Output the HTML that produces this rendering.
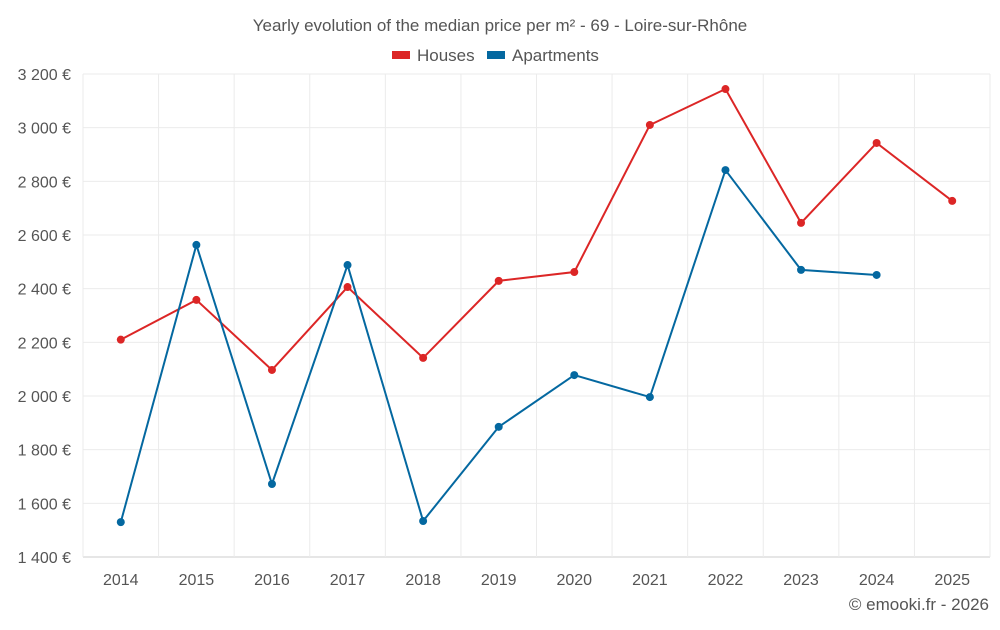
<!DOCTYPE html>
<html><head><meta charset="utf-8"><style>
body{margin:0;background:#fff;font-family:"Liberation Sans",sans-serif;}
svg text{font-family:"Liberation Sans",sans-serif;}
</style></head><body>
<svg id="chart" width="1000" height="625" xmlns="http://www.w3.org/2000/svg">
<text x="500" y="31" text-anchor="middle" font-size="17" fill="#555">Yearly evolution of the median price per m² - 69 - Loire-sur-Rhône</text>
<g>
<g><rect x="392" y="51" width="18" height="8" fill="#dc2626"/><text x="417" y="61" font-size="17" fill="#555">Houses</text></g>
<g><rect x="487" y="51" width="18" height="8" fill="#0468a0"/><text x="512" y="61" font-size="17" fill="#555">Apartments</text></g>
</g>
<g id="grid"></g><g id="axes"></g><g id="series"></g>
<text x="989" y="610" text-anchor="end" font-size="17" fill="#555">© emooki.fr - 2026</text>
</svg>
<script>
const years=[2014,2015,2016,2017,2018,2019,2020,2021,2022,2023,2024,2025];
const houses=[2210,2358,2097,2406,2142,2429,2462,3010,3144,2645,2943,2727];
const apartments=[1530,2563,1672,2488,1534,1885,2078,1996,2842,2470,2451,null];
const yTicks=[1400,1600,1800,2000,2200,2400,2600,2800,3000,3200];
const yTickLabels=["1 400 €","1 600 €","1 800 €","2 000 €","2 200 €","2 400 €","2 600 €","2 800 €","3 000 €","3 200 €"];
const L=83,R=990,T=74,B=557,yMin=1400,yMax=3200;
const step=(R-L)/years.length;
const x=i=>L+step*(i+0.5);
const y=v=>B-(v-yMin)/(yMax-yMin)*(B-T);
const NS="http://www.w3.org/2000/svg";
function mk(tag,attrs,parent){const e=document.createElementNS(NS,tag);for(const k in attrs)e.setAttribute(k,attrs[k]);parent.appendChild(e);return e;}
const grid=document.getElementById('grid'),axes=document.getElementById('axes'),ser=document.getElementById('series');
yTicks.forEach((t,i)=>{
 const l=mk('line',{x1:L,x2:R,y1:y(t),y2:y(t),stroke:i==0?'#ccc':'#ebebeb'},grid);
 
 
 const tx=mk('text',{x:L-12,y:y(t)+6,'text-anchor':'end','font-size':16,fill:'#555'},axes);
 tx.textContent=yTickLabels[i];
 
 
});
for(let i=0;i<=years.length;i++){
 const l=mk('line',{x1:L+step*i,x2:L+step*i,y1:T,y2:B,stroke:'#ebebeb'},grid);
 
 
}
years.forEach((yr,i)=>{
 const tx=mk('text',{x:x(i),y:585,'text-anchor':'middle','font-size':16,fill:'#555'},axes);
 tx.textContent=yr;
 
 
});
function draw(vals,color,name){
 const pts=[];vals.forEach((v,i)=>{if(v!=null)pts.push([x(i),y(v)]);});
 const p=mk('polyline',{points:pts.map(p=>p.join(',')).join(' '),fill:'none',stroke:color,'stroke-width':2},ser);
 
 
 pts.forEach(q=>{
  const c=mk('circle',{cx:q[0],cy:q[1],r:4,fill:color},ser);
  
  
 });
}
draw(houses,'#dc2626','houses');
draw(apartments,'#0468a0','apartments');
</script>
</body></html>
